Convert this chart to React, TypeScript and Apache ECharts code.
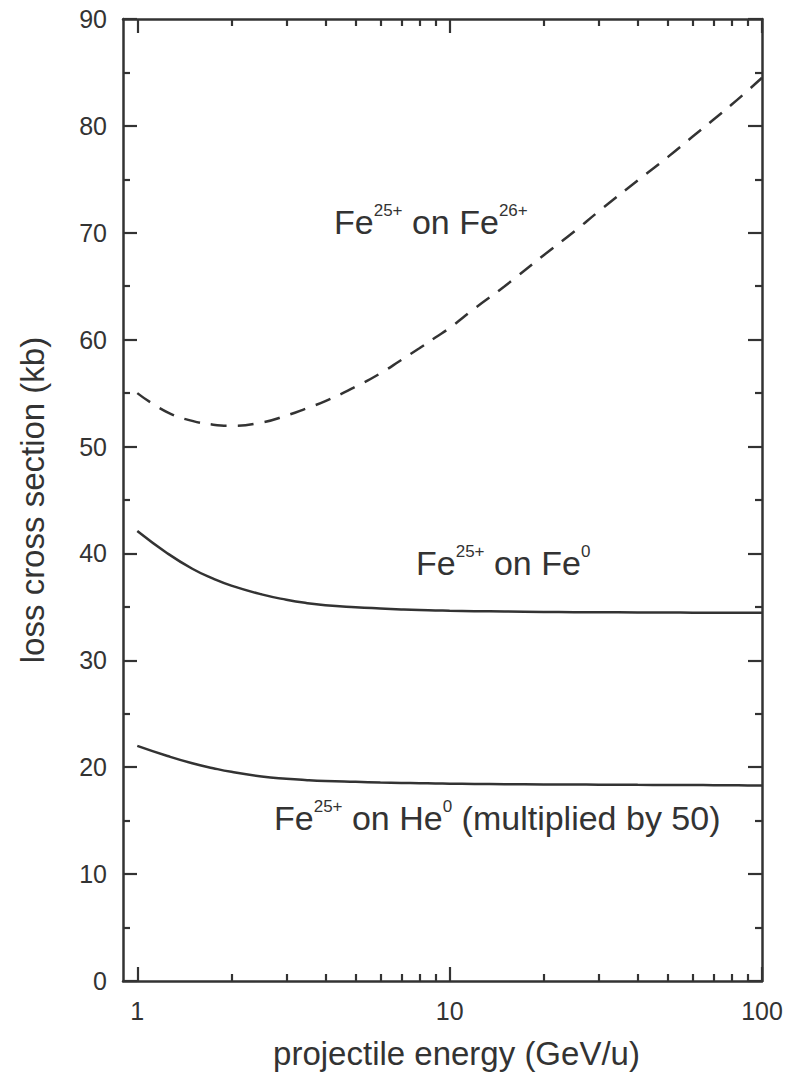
import React, { useEffect, useRef } from "react";
import * as echarts from "echarts";

// projectile energy (GeV/u)
const energy = [1, 1.25, 1.5, 1.75, 2, 2.5, 3, 3.5, 4, 5, 6, 7, 8, 9, 10, 12, 15, 20, 25, 30, 40, 50, 60, 70, 80, 90, 100];

// loss cross sections (kb)
const feOnFe26 = [55.0, 53.2, 52.4, 52.05, 51.95, 52.25, 52.9, 53.6, 54.25, 55.6, 56.85, 58.1, 59.2, 60.2, 61.1, 62.9, 65.0, 67.9, 70.1, 72.0, 74.9, 77.1, 79.0, 80.6, 82.0, 83.3, 84.5];
const feOnFe0 = [42.1, 40.0, 38.57, 37.64, 36.99, 36.17, 35.67, 35.35, 35.16, 34.97, 34.85, 34.76, 34.7, 34.67, 34.64, 34.6, 34.57, 34.53, 34.51, 34.5, 34.48, 34.47, 34.46, 34.45, 34.45, 34.44, 34.44];
const feOnHe0 = [22.0, 21.05, 20.37, 19.91, 19.57, 19.14, 18.92, 18.79, 18.71, 18.63, 18.57, 18.53, 18.5, 18.48, 18.46, 18.44, 18.41, 18.39, 18.38, 18.37, 18.35, 18.34, 18.33, 18.32, 18.31, 18.3, 18.3];

// tick positions
const xMajorTicks = [1, 10, 100];
const xMinorTicks = [2, 3, 4, 5, 6, 7, 8, 9, 20, 30, 40, 50, 60, 70, 80, 90];

const FONT = "'Liberation Sans', Arial, Helvetica, sans-serif";
const INK = "#333333";

const pairs = (ys: number[]) => energy.map((e, i) => [e, ys[i]]);

const lineStyleAxis = { color: INK, width: 2.5 };

function xAxisDef(position: "bottom" | "top", ticks: number[], len: number, withLine: boolean, withLabels: boolean, name?: string) {
  return {
    type: "log",
    logBase: 10,
    min: 0.9,
    max: 100,
    position,
    gridIndex: 0,
    axisLine: { show: withLine, onZero: false, lineStyle: lineStyleAxis },
    axisTick: { show: true, inside: true, length: len, customValues: ticks, lineStyle: { color: INK, width: 2.2 } },
    axisLabel: withLabels
      ? { show: true, customValues: ticks, fontSize: 25, color: INK, fontFamily: FONT, margin: 17, formatter: (v: number) => String(Math.round(v)) }
      : { show: false },
    splitLine: { show: false },
    minorTick: { show: false },
    name: name,
    nameLocation: "middle",
    nameGap: 56,
    nameTextStyle: { fontSize: 33, color: INK, fontFamily: FONT, padding: [0, 0, 0, 28] },
  };
}

function yAxisDef(position: "left" | "right", withLabels: boolean, name?: string) {
  return {
    type: "value",
    min: 0,
    max: 90,
    interval: 10,
    position,
    axisLine: { show: true, onZero: false, lineStyle: lineStyleAxis },
    axisTick: { show: true, inside: true, length: 14, lineStyle: { color: INK, width: 2.2 } },
    minorTick: { show: true, splitNumber: 2, length: 7, lineStyle: { color: INK, width: 2.2 } },
    axisLabel: withLabels ? { show: true, fontSize: 25, color: INK, fontFamily: FONT, margin: 16 } : { show: false },
    splitLine: { show: false },
    name: name,
    nameLocation: "middle",
    nameRotate: 90,
    nameGap: 74,
    nameTextStyle: { fontSize: 33, color: INK, fontFamily: FONT },
  };
}

function annotation(x: number, y: number, text: string) {
  return {
    type: "text",
    x,
    y,
    style: {
      text,
      fill: INK,
      fontFamily: FONT,
      verticalAlign: "top",
      rich: {
        m: { fontSize: 34, lineHeight: 40, fontFamily: FONT, fill: INK, verticalAlign: "middle" },
        s: { fontSize: 17, lineHeight: 20, fontFamily: FONT, fill: INK, verticalAlign: "top" },
      },
    },
  };
}

export default function App() {
  const ref = useRef<HTMLDivElement>(null);

  useEffect(() => {
    if (!ref.current) return;
    const chart = echarts.init(ref.current, undefined, { renderer: "svg" });
    chart.setOption({
      animation: false,
      backgroundColor: "#ffffff",
      grid: { left: 123, right: 24, top: 19, bottom: 95, containLabel: false },
      xAxis: [
        xAxisDef("bottom", xMajorTicks, 14, true, true, "projectile energy (GeV/u)"),
        xAxisDef("bottom", xMinorTicks, 7, false, false),
        xAxisDef("top", xMajorTicks, 14, true, false),
        xAxisDef("top", xMinorTicks, 7, false, false),
      ],
      yAxis: [yAxisDef("left", true, "loss cross section (kb)"), yAxisDef("right", false)],
      series: [
        {
          name: "Fe25+ on Fe26+",
          type: "line",
          xAxisIndex: 0,
          yAxisIndex: 0,
          data: pairs(feOnFe26),
          smooth: true,
          showSymbol: false,
          lineStyle: { color: INK, width: 2.5, type: [16, 11] },
        },
        {
          name: "Fe25+ on Fe0",
          type: "line",
          xAxisIndex: 0,
          yAxisIndex: 0,
          data: pairs(feOnFe0),
          smooth: true,
          showSymbol: false,
          lineStyle: { color: INK, width: 2.5 },
        },
        {
          name: "Fe25+ on He0 (multiplied by 50)",
          type: "line",
          xAxisIndex: 0,
          yAxisIndex: 0,
          data: pairs(feOnHe0),
          smooth: true,
          showSymbol: false,
          lineStyle: { color: INK, width: 2.5 },
        },
      ],
      graphic: [
        annotation(334, 202, "{m|Fe}{s|25+}{m| on Fe}{s|26+}"),
        annotation(416, 543, "{m|Fe}{s|25+}{m| on Fe}{s|0}"),
        annotation(274, 798, "{m|Fe}{s|25+}{m| on He}{s|0}{m| (multiplied by 50)}"),
      ],
    });
    return () => chart.dispose();
  }, []);

  return <div ref={ref} style={{ position: "absolute", left: 0, top: 0, width: 786, height: 1076 }} />;
}
